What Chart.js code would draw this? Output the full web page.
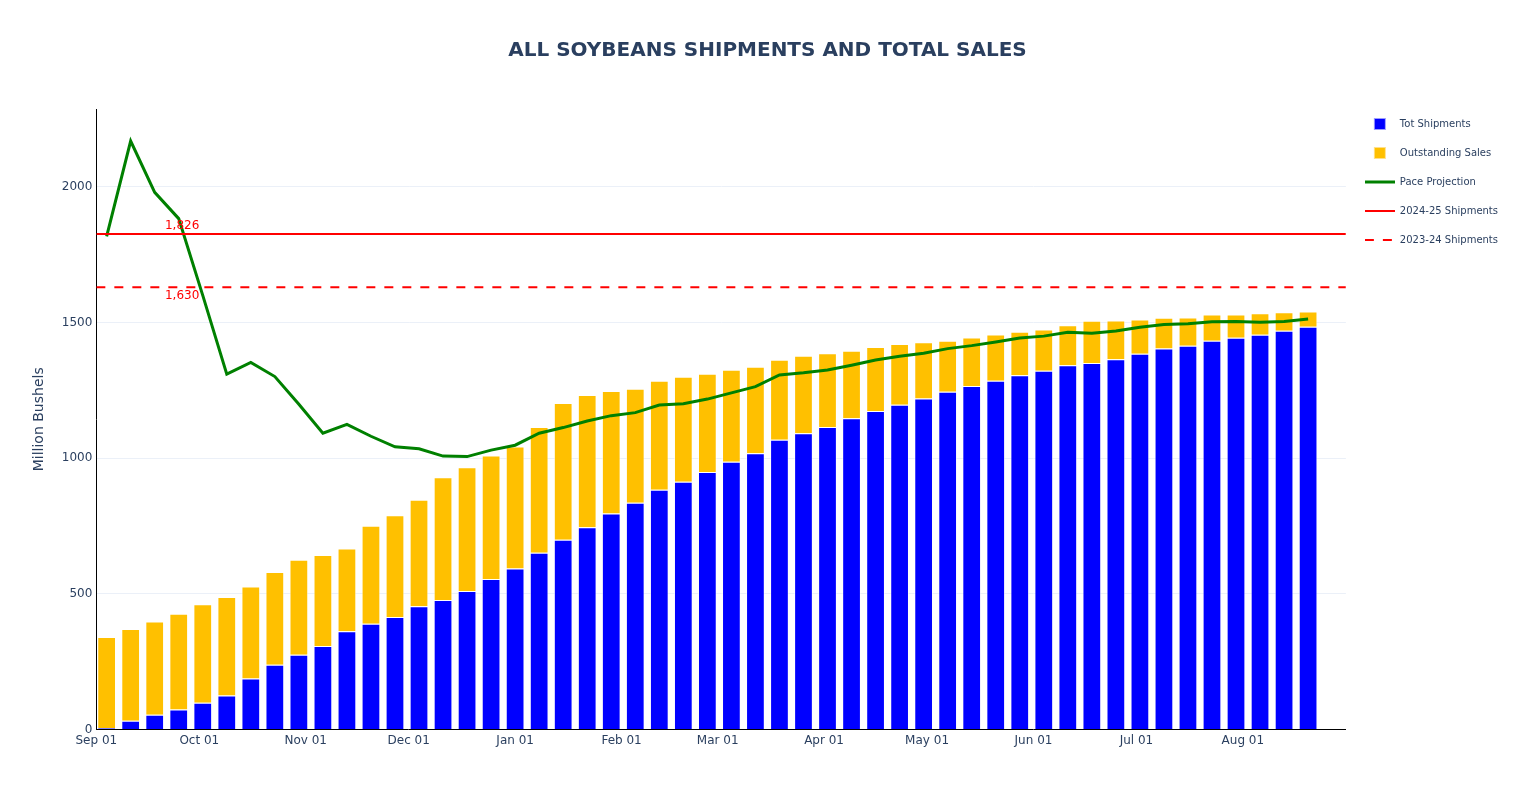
<!DOCTYPE html>
<html>
<head>
<meta charset="utf-8">
<title>All Soybeans Shipments and Total Sales</title>
<script src="https://cdn.jsdelivr.net/npm/chart.js@4.4.1/dist/chart.umd.min.js"></script>
<style>
    html, body { margin: 0; padding: 0; background: #fff; overflow: hidden; }
    canvas { display: block; }
</style>
</head>
<body>
<canvas id="chart" width="1535" height="787"></canvas>
<script>
// week-ending dates of the marketing year
const weeks = [
    "2025-09-04", "2025-09-11", "2025-09-18", "2025-09-25", "2025-10-02", "2025-10-09", "2025-10-16",
    "2025-10-23", "2025-10-30", "2025-11-06", "2025-11-13", "2025-11-20", "2025-11-27", "2025-12-04",
    "2025-12-11", "2025-12-18", "2025-12-25", "2026-01-01", "2026-01-08", "2026-01-15", "2026-01-22",
    "2026-01-29", "2026-02-05", "2026-02-12", "2026-02-19", "2026-02-26", "2026-03-05", "2026-03-12",
    "2026-03-19", "2026-03-26", "2026-04-02", "2026-04-09", "2026-04-16", "2026-04-23", "2026-04-30",
    "2026-05-07", "2026-05-14", "2026-05-21", "2026-05-28", "2026-06-04", "2026-06-11", "2026-06-18",
    "2026-06-25", "2026-07-02", "2026-07-09", "2026-07-16", "2026-07-23", "2026-07-30", "2026-08-06",
    "2026-08-13", "2026-08-20"
];

// million bushels
const shipments = [
    6, 33, 55, 74, 99, 126, 188, 239, 276, 308, 362, 390, 415, 455, 478, 511, 555,
    594, 652, 700, 746, 796, 836, 884, 913, 949, 987, 1018, 1068, 1092, 1115, 1147, 1174,
    1197, 1220, 1245, 1266, 1286, 1306, 1322, 1343, 1351, 1365, 1385, 1404, 1415, 1433, 1444,
    1455, 1470, 1485
];

const outstanding = [
    335, 338, 343, 353, 363, 363, 339, 342, 350, 335, 305, 361, 375, 392, 452, 456, 455,
    449, 463, 504, 487, 452, 420, 402, 387, 362, 339, 319, 295, 286, 272, 249, 236,
    224, 207, 188, 179, 170, 160, 152, 147, 156, 143, 126, 114, 104, 97, 86,
    79, 68, 56
];

const paceProjection = [
    1818, 2169, 1980, 1883, 1600, 1310, 1353, 1301, 1199, 1092, 1125, 1081, 1042, 1035, 1008, 1006, 1030,
    1048, 1092, 1113, 1137, 1157, 1168, 1196, 1201, 1218, 1241, 1264, 1307, 1315, 1325, 1343, 1362,
    1376, 1387, 1404, 1415, 1428, 1443, 1450, 1464, 1461, 1469, 1483, 1493, 1496, 1503, 1504,
    1501, 1504, 1513
];

const refLabels = ["2024-25 Shipments", "2023-24 Shipments"];
const refValues = [1826, 1630];

const monthTicks = [
    "2025-09-01", "2025-10-01", "2025-11-01", "2025-12-01", "2026-01-01", "2026-02-01",
    "2026-03-01", "2026-04-01", "2026-05-01", "2026-06-01", "2026-07-01", "2026-08-01"
];
const monthLabels = [
    "Sep 01", "Oct 01", "Nov 01", "Dec 01", "Jan 01", "Feb 01",
    "Mar 01", "Apr 01", "May 01", "Jun 01", "Jul 01", "Aug 01"
];
const yTicks = [0, 500, 1000, 1500, 2000];

const seasonStart = "2025-09-01";
const seasonEnd = "2026-08-31";

const TEXT = "#2a3f5f";
const GRID = "#ebf0f8";

const dayOf = (iso) => (Date.parse(iso) - Date.parse(seasonStart)) / 86400000;
const weekDays = weeks.map(dayOf);
const lastDay = dayOf(seasonEnd);

// little canvases used as legend markers
const swatch = (draw) => {
    const c = document.createElement("canvas");
    c.width = 30;
    c.height = 12;
    draw(c.getContext("2d"));
    return c;
};
const squareSwatch = (color, edge) => swatch((ctx) => {
    ctx.fillStyle = color;
    ctx.fillRect(9, 0, 12, 12);
    ctx.strokeStyle = edge;
    ctx.lineWidth = 1;
    ctx.strokeRect(9.5, 0.5, 11, 11);
});
const lineSwatch = (color, width, dash) => swatch((ctx) => {
    ctx.strokeStyle = color;
    ctx.lineWidth = width;
    ctx.setLineDash(dash);
    ctx.beginPath();
    ctx.moveTo(0, 6);
    ctx.lineTo(30, 6);
    ctx.stroke();
});

const refLabelPlugin = {
    id: "refLabels",
    afterDatasetsDraw(chart) {
        const { ctx, scales: { x, y } } = chart;
        ctx.save();
        ctx.font = "12px 'DejaVu Sans'";
        ctx.fillStyle = "#ff0000";
        ctx.textAlign = "center";
        ctx.textBaseline = "middle";
        refValues.forEach((v, i) => {
            const py = y.getPixelForValue(v) + (i === 0 ? -8 : 9);
            ctx.fillText(v.toLocaleString("en-US"), x.getPixelForValue(25), py);
        });
        ctx.restore();
    }
};

Chart.defaults.font.family = "'DejaVu Sans', Verdana, sans-serif";
Chart.defaults.color = TEXT;

const toPoints = (values) => values.map((v, i) => ({ x: weekDays[i], y: v }));
const flatLine = (v) => [{ x: 0, y: v }, { x: lastDay, y: v }];

const data = {
    datasets: [
        {
            type: "bar",
            label: "Tot Shipments",
            data: toPoints(shipments),
            backgroundColor: "#0000ff",
            borderColor: "rgba(255,255,255,0.55)",
            borderWidth: 1,
            stack: "bars",
            order: 3,
            marker: squareSwatch("#0000ff", "#9c9cff")
        },
        {
            type: "bar",
            label: "Outstanding Sales",
            data: toPoints(outstanding),
            backgroundColor: "#ffc000",
            borderColor: "rgba(255,255,255,0.55)",
            borderWidth: 1,
            stack: "bars",
            order: 3,
            marker: squareSwatch("#ffc000", "#ffe08a")
        },
        {
            type: "line",
            label: "Pace Projection",
            data: toPoints(paceProjection),
            borderColor: "#008000",
            borderWidth: 3,
            pointRadius: 0,
            tension: 0,
            stack: "pace",
            order: 2,
            marker: lineSwatch("#008000", 3, [])
        },
        {
            type: "line",
            label: refLabels[0],
            data: flatLine(refValues[0]),
            borderColor: "#ff0000",
            borderWidth: 2,
            pointRadius: 0,
            stack: "ref0",
            order: 1,
            marker: lineSwatch("#ff0000", 2, [])
        },
        {
            type: "line",
            label: refLabels[1],
            data: flatLine(refValues[1]),
            borderColor: "#ff0000",
            borderWidth: 2,
            borderDash: [9, 9],
            pointRadius: 0,
            stack: "ref1",
            order: 0,
            marker: lineSwatch("#ff0000", 2, [9, 9])
        }
    ]
};

const options = {
    responsive: false,
    animation: false,
    events: [],
    layout: { padding: { left: 27, right: 27, top: 0, bottom: 35 } },
    barPercentage: 0.78,
    categoryPercentage: 1,
    scales: {
        x: {
            type: "linear",
            min: 0,
            max: lastDay,
            offset: false,
            grid: { display: false, drawTicks: false },
            border: { display: true, color: "#000000", width: 1 },
            afterBuildTicks: (scale) => {
                scale.ticks = monthTicks.map((d) => ({ value: dayOf(d) }));
            },
            ticks: {
                autoSkip: false,
                maxRotation: 0,
                padding: 4,
                font: { size: 12 },
                color: TEXT,
                callback: (value, index) => monthLabels[index]
            }
        },
        y: {
            stacked: true,
            min: 0,
            max: 2287,
            grid: { color: GRID, lineWidth: 1, drawTicks: false },
            border: { display: true, color: "#000000", width: 1 },
            afterBuildTicks: (scale) => {
                scale.ticks = yTicks.map((v) => ({ value: v }));
            },
            ticks: {
                padding: 4,
                font: { size: 12 },
                color: TEXT,
                callback: (value) => String(value)
            },
            title: {
                display: true,
                text: "Million Bushels",
                color: TEXT,
                font: { size: 14 },
                padding: { top: 4, bottom: 10 }
            }
        }
    },
    plugins: {
        title: {
            display: true,
            text: "ALL SOYBEANS SHIPMENTS AND TOTAL SALES",
            color: TEXT,
            font: { size: 20, weight: "bold" },
            padding: { top: 39, bottom: 46 }
        },
        legend: {
            position: "right",
            align: "start",
            title: { display: true, text: "", font: { size: 10 }, padding: { top: 88, bottom: 0 } },
            labels: {
                usePointStyle: true,
                pointStyleWidth: 30,
                boxHeight: 10,
                padding: 19,
                color: TEXT,
                font: { size: 10 },
                generateLabels: (chart) => chart.data.datasets.map((ds, i) => ({
                    text: ds.label,
                    datasetIndex: i,
                    pointStyle: ds.marker,
                    fillStyle: "transparent",
                    strokeStyle: "transparent",
                    lineWidth: 0,
                    fontColor: TEXT,
                    hidden: !chart.isDatasetVisible(i)
                }))
            }
        },
        tooltip: { enabled: false }
    }
};

new Chart(document.getElementById("chart"), {
    type: "bar",
    data,
    options,
    plugins: [refLabelPlugin]
});
</script>
</body>
</html>
